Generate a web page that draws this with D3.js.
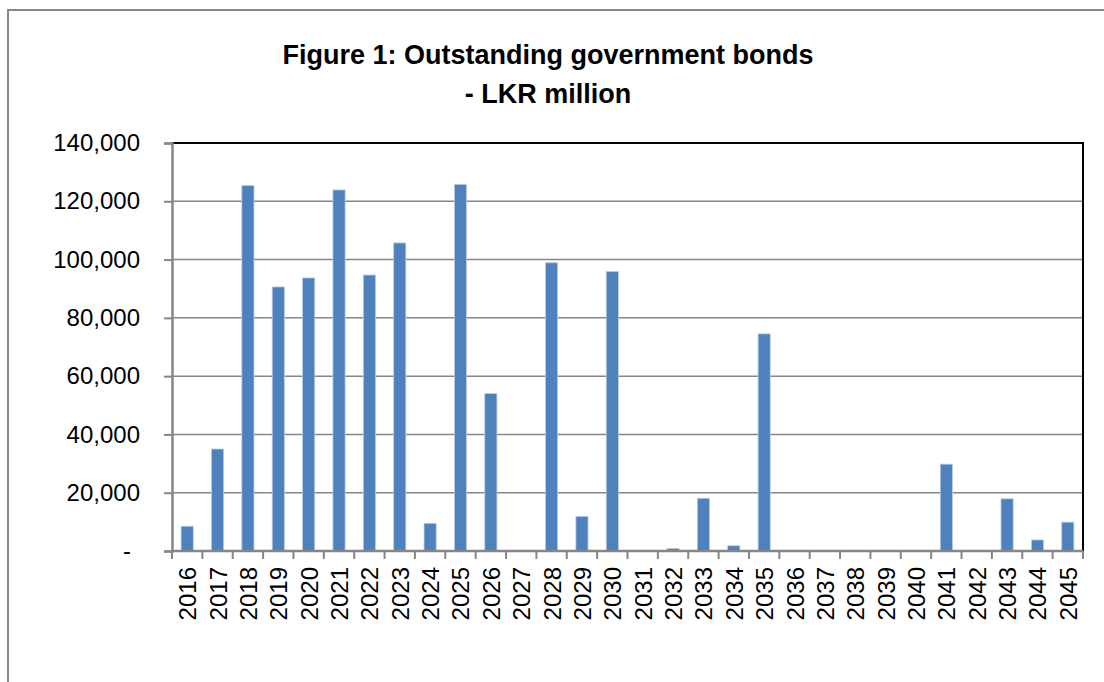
<!DOCTYPE html>
<html>
<head>
<meta charset="utf-8">
<script src="https://cdn.jsdelivr.net/npm/d3@7"></script>
<style>
  body { margin: 0; background: #ffffff; }
  text { font-family: "Liberation Sans", Arial, sans-serif; }
</style>
</head>
<body>
<script>
var years = ["2016", "2017", "2018", "2019", "2020", "2021", "2022", "2023", "2024", "2025",
  "2026", "2027", "2028", "2029", "2030", "2031", "2032", "2033", "2034", "2035",
  "2036", "2037", "2038", "2039", "2040", "2041", "2042", "2043", "2044", "2045"];
var bonds = [8500, 35000, 125400, 90600, 93700, 123900, 94700, 105700, 9500, 125800,
  54000, 0, 98900, 11900, 95900, 0, 900, 18100, 1800, 74500,
  0, 0, 0, 0, 0, 29800, 0, 17900, 3800, 9900];
var yTicks = [0, 20000, 40000, 60000, 80000, 100000, 120000, 140000];
var titleLines = ["Figure 1: Outstanding government bonds", "- LKR million"];

var width = 1104;
var height = 682;
var plotLeft = 172, plotRight = 1083, plotTop = 143, plotBottom = 551;

var svg = d3.select("body")
  .append("svg")
  .attr("width", width)
  .attr("height", height);

// outer chart frame
svg.append("rect")
  .attr("x", 8)
  .attr("y", 10)
  .attr("width", width + 20)
  .attr("height", height + 20)
  .attr("fill", "#ffffff")
  .attr("stroke", "#888888")
  .attr("stroke-width", 2);

var title = svg.append("text")
  .attr("text-anchor", "middle")
  .attr("font-weight", "bold")
  .attr("font-size", 27)
  .attr("fill", "#000000");
title.append("tspan").attr("x", 548).attr("y", 64).text(titleLines[0]);
title.append("tspan").attr("x", 548).attr("y", 103).text(titleLines[1]);

var x = d3.scaleBand()
  .domain(years)
  .range([plotLeft, plotRight])
  .paddingInner(0.6)
  .paddingOuter(0.3);
var y = d3.scaleLinear()
  .domain([0, 140000])
  .range([plotBottom, plotTop]);

// gridlines
svg.append("g")
  .selectAll("line")
  .data(yTicks.filter(function (d) { return d > 0 && d < 140000; }))
  .enter()
  .append("line")
  .attr("x1", plotLeft)
  .attr("x2", plotRight)
  .attr("y1", function (d) { return y(d); })
  .attr("y2", function (d) { return y(d); })
  .attr("stroke", "#868686")
  .attr("stroke-width", 1.5);

// top and right border of plot
svg.append("path")
  .attr("d", "M" + plotLeft + "," + plotTop + "H" + plotRight + "V" + plotBottom)
  .attr("fill", "none")
  .attr("stroke", "#000000")
  .attr("stroke-width", 2);

// bars
svg.append("g")
  .selectAll("rect")
  .data(bonds)
  .enter()
  .append("rect")
  .attr("x", function (d, i) { return x(years[i]); })
  .attr("y", function (d) { return y(d); })
  .attr("width", x.bandwidth())
  .attr("height", function (d) { return plotBottom - y(d); })
  .attr("fill", "#4f81bd")
  .attr("stroke", function (d) { return d > 0 ? "#b9cde5" : "none"; })
  .attr("stroke-width", 0.8);

// y axis
var yAxis = d3.axisLeft(y)
  .tickValues(yTicks)
  .tickSize(8)
  .tickPadding(24)
  .tickFormat(function (d) { return d === 0 ? "-" : d3.format(",")(d); });
var yg = svg.append("g")
  .attr("transform", "translate(" + plotLeft + ",0)")
  .call(yAxis);
yg.select(".domain").attr("stroke", "#868686").attr("stroke-width", 2.5);
yg.selectAll(".tick line").attr("stroke", "#868686").attr("stroke-width", 2);
yg.selectAll(".tick text")
  .attr("font-size", 24)
  .attr("fill", "#000000")
  .attr("font-family", "Liberation Sans, Arial, sans-serif")
  .attr("dx", function (d) { return d === 0 ? -9 : 0; });

// x axis
var xAxis = d3.axisBottom(x)
  .tickSize(0)
  .tickPadding(0);
var xg = svg.append("g")
  .attr("transform", "translate(0," + plotBottom + ")")
  .call(xAxis);
xg.select(".domain").remove();
xg.append("line")
  .attr("x1", plotLeft)
  .attr("x2", plotRight)
  .attr("stroke", "#868686")
  .attr("stroke-width", 2.5);
xg.selectAll(".tick text")
  .attr("font-size", 24)
  .attr("fill", "#000000")
  .attr("font-family", "Liberation Sans, Arial, sans-serif")
  .attr("text-anchor", "end")
  .attr("dy", null)
  .attr("transform", "translate(9,16) rotate(-90)");

// category boundary ticks
var bounds = years.map(function (d, i) { return plotLeft + i * (plotRight - plotLeft) / years.length; });
bounds.push(plotRight);
xg.selectAll(".bound")
  .data(bounds)
  .enter()
  .append("line")
  .attr("class", "bound")
  .attr("x1", function (d) { return d; })
  .attr("x2", function (d) { return d; })
  .attr("y1", 0)
  .attr("y2", 8)
  .attr("stroke", "#868686")
  .attr("stroke-width", 2);
</script>
</body>
</html>
